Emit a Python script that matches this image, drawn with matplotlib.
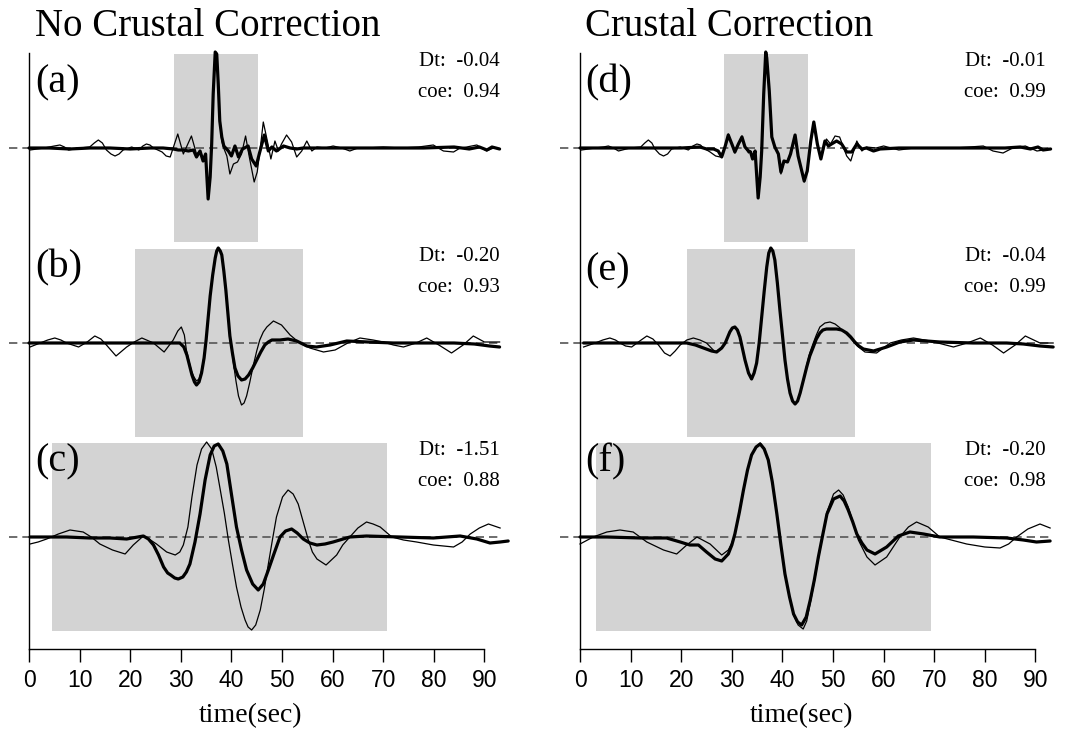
import matplotlib
matplotlib.use("Agg")
import matplotlib.pyplot as plt
from matplotlib.patches import Rectangle

# ---- data (time in s, amplitude in plot units) ----
# column 1: no crustal correction
a_thin_t = [0.2, 3.0, 5.0, 6.1, 7.0, 7.8, 10.0, 12.0, 12.9, 13.7,
            14.5, 15.3, 16.2, 17.0, 17.8, 18.6, 20.3, 21.7, 22.5, 23.2,
            23.9, 24.6, 26.3, 27.1, 27.9,
            29.4, 30.5, 32.1, 33.1,
            33.8, 34.4, 34.9, 35.4, 35.8, 36.1, 36.4, 36.8, 37.1, 37.4,
            37.7, 38.1, 38.4, 39.1, 39.7, 40.4, 41.2, 42.0, 42.8, 43.5,
            44.5, 45.1, 45.8, 46.3, 47.1, 47.8, 48.6, 49.3, 49.9, 50.9,
            51.9, 52.9, 53.9, 54.9, 55.9, 56.9, 58.5, 60.1, 61.8, 63.4,
            65.0, 66.7, 70.0, 73.5, 77.0, 79.9, 81.9, 83.9, 85.2, 86.5,
            88.5, 90.4, 91.8, 93.0]
a_thin_v = [-2, 0, 2, 3, 1, -2, 0, 1, 5, 8,
            5, -2, -6, -8, -6, -2, 1, -2, 2, 4,
            3, 0, -4, -8, -9,
            14, -6, 12, -6,
            -3, -11, -6, -51, -29, 4, 54, 94, 94, 64,
            27, 7, 1, -8, -26, -16, -14, -6, 12, -8,
            -34, -24, 4, 26, 7, -11, 7, -3, 4, 13,
            6, -9, -3, 7, -3, 1, 0, 2, 0, -3,
            0, 0, 1, 0, 1, 3, -3, -4, 0, 1,
            3, -3, 0, -1]
a_thick_t = [0.0, 4, 8, 12, 16, 20, 24, 26.5, 28.5, 29.5,
             30.5, 31.5, 32.5, 33.1, 33.8, 34.4, 34.9, 35.4, 35.8, 36.1,
             36.4, 36.8, 37.1, 37.4, 37.7, 38.1, 38.5, 39.4, 40.0, 40.7,
             41.4, 42.2, 43.3, 44.0, 44.9, 45.5, 46.5, 47.3, 48.0, 48.9,
             50.3, 51.6, 52.9, 54.2, 57, 62, 70, 78, 84, 87,
             89, 90.5, 91.5, 93.0]
a_thick_v = [0, 0, -1, 0, 0, -1, 0, 0, -1, -2,
             -2, -3, -2, -9, -3, -13, -6, -51, -29, 4,
             54, 96, 94, 64, 27, 11, 2, -3, -8, 2,
             -9, -1, 2, -11, -18, -6, 13, -3, 1, -3,
             2, 0, -1, 0, 0, 0, 0, 0, 1, -1,
             1, -2, 1, -1]

b_thin_t = [0.2, 2.2, 3.7, 5.1, 6.3, 7.4, 8.6, 9.8, 11.5, 13.0,
            14.2, 15.3, 17.2, 19.3, 20.8, 22.3, 24.6, 26.7, 28.5, 29.4,
            30.1, 30.7, 31.1, 31.6, 32.1, 32.6, 33.1, 33.6, 34.1, 34.6,
            35.0, 35.4, 35.8, 36.3, 36.8, 37.1, 37.4, 37.8, 38.1, 38.5,
            38.9, 39.3, 39.7, 40.1, 40.4, 40.9, 41.4, 42.0, 42.5, 43.0,
            43.6, 44.3, 45.0, 45.6, 46.3, 47.0, 48.3, 49.9, 51.6, 53.5,
            55.5, 58.2, 60.5, 63.0, 65.4, 68.0, 70.0, 72.0, 74.0, 76.5,
            78.6, 81.0, 83.5, 85.8, 87.8, 90.0, 93.0]
b_thin_v = [-4, 0, 3, 5, 3, 0, -2, -4, 1, 7,
            4, -2, -13, -4, 1, 5, 0, -9, 3, 12,
            16, 8, -7, -18, -28, -34, -38, -36, -28, -13,
            3, 25, 47, 68, 85, 92, 95, 92, 88, 72,
            53, 30, 5, -8, -20, -38, -53, -62, -60, -53,
            -40, -23, -8, 3, 11, 16, 22, 18, 8, 0,
            -5, -9, -7, 0, 5, 3, 1, -2, -4, 0,
            5, -2, -10, -2, 7, 1, 1]
b_thick_t = [0, 5, 10, 15, 20, 25, 28, 29.8, 30.6, 31.2,
             31.7, 32.2, 32.7, 33.1, 33.6, 34.1, 34.6, 35.0, 35.4, 35.8,
             36.3, 36.8, 37.1, 37.4, 37.8, 38.1, 38.5, 38.9, 39.3, 39.7,
             40.2, 40.7, 41.3, 42.0, 42.7, 43.4, 44.2, 45.0, 45.8, 46.6,
             47.3, 48.0, 49.6, 51.2, 52.9, 54.9, 56.8, 59.5, 62.8, 67,
             72, 78, 84, 88, 91, 93]
b_thick_v = [0, 0, 0, 0, 0, 0, 0, 0, -4, -12,
             -22, -32, -39, -42, -39, -30, -15, 3, 25, 47,
             68, 85, 92, 95, 92, 88, 72, 53, 30, 7,
             -10, -25, -33, -37, -36, -32, -25, -17, -9, -2,
             1, 3, 3, 4, 2, -3, -4, -2, 2, 1,
             0, 0, 0, -1, -3, -4]

c_thin_t = [0.2, 1.8, 3.5, 5.8, 8.1, 10.7, 12.3, 14.0, 16.5, 19.0,
            20.6, 22.6, 24.0, 25.2, 27.2, 28.9, 29.8, 30.5, 31.4, 32.2,
            33.2, 34.1, 35.1, 36.1, 37.0, 37.7, 38.6, 39.4, 40.2, 41.0,
            41.9, 42.7, 43.3, 44.0, 44.8, 45.7, 46.5, 47.3, 48.1, 48.9,
            50.1, 51.2, 52.2, 53.2, 54.2, 55.2, 56.0, 56.9, 58.7, 60.8,
            62.0, 63.4, 65.0, 66.7, 68.0, 69.4, 71.7, 74.0, 76.6, 79.9,
            83.9, 85.6, 87.2, 89.0, 90.8, 93.1]
c_thin_v = [-7, -5, -2, 3, 7, 5, 0, -7, -13, -17,
            -8, 1, -3, -7, -15, -18, -15, -8, 10, 40,
            72, 88, 95, 88, 70, 50, 24, -3, -27, -50,
            -70, -83, -90, -93, -88, -73, -52, -27, -3, 20,
            40, 47, 43, 33, 15, -3, -15, -22, -28, -18,
            -8, 0, 9, 15, 13, 10, 0, -3, -5, -8,
            -10, -5, 3, 9, 13, 9]
c_thick_t = [0.2, 4, 7.4, 12, 16, 19.3, 21.5, 22.6, 23.6, 24.6,
             25.6, 26.6, 27.4, 28.0, 28.8, 29.5, 30.4, 31.1, 31.8, 32.8,
             33.8, 34.8, 35.8, 36.6, 37.4, 38.3, 39.1, 40.0, 41.0, 42.0,
             43.0, 44.2, 45.3, 46.3, 47.3, 48.4, 49.6, 50.7, 51.9, 53.0,
             54.2, 55.5, 56.9, 58.5, 60.1, 63.4, 66.7, 73.3, 79.9, 85.2,
             88.5, 91.1, 93.1, 94.7]
c_thick_v = [0, 0, 0, -1, -1, -2, 0, 1, -2, -8,
             -18, -30, -36, -38, -41, -42, -40, -35, -27, -5,
             23, 57, 82, 91, 93, 86, 73, 43, 10, -13,
             -33, -47, -53, -47, -33, -17, 0, 6, 8, 4,
             -2, -6, -8, -7, -5, 0, 1, 0, -1, 1,
             -2, -6, -5, -4]

# column 2: crustal correction
d_thin_t = [0.3, 3.0, 4.6, 5.6, 6.6, 7.6, 9.9, 12.0, 12.8, 13.5,
            14.2, 14.8, 15.7, 16.5, 17.3, 18.1, 19.8, 21.4, 22.3, 23.1,
            23.8, 24.4, 25.7, 26.8, 27.7,
            28.7, 29.3, 30.0, 30.6,
            31.3, 32.0, 32.6, 33.3, 33.7, 34.1, 34.6, 35.2, 35.6, 35.9,
            36.3, 36.7, 36.9, 37.4, 37.9, 38.5, 39.2, 39.7, 40.3, 41.0,
            41.6, 42.5, 43.1, 44.3, 44.9, 45.6, 46.2, 46.9, 47.6, 48.7,
            49.5, 50.4, 51.3, 52.7, 53.5, 54.7, 55.7, 56.6, 58.5, 60.0,
            63.0, 66.0, 70.0, 74.0, 77.0, 79.7, 81.6, 83.6, 85.5, 88.0,
            90.3, 92.9]
d_thin_v = [-2, 0, 1, 2, 0, -3, 0, 1, 5, 8,
            5, -1, -6, -8, -6, -1, 1, -2, 2, 4,
            3, 0, -4, -8, -9,
            2, 14, 4, -5,
            4, 12, 1, -5, -3, -11, -4, -50, -29, -3,
            54, 96, 90, 57, 11, 1, -7, -26, -14, -14,
            -5, 13, -8, -34, -23, 7, 26, 5, -11, 9,
            4, 12, 11, -8, -13, 7, -3, 1, 0, 2,
            -2, 0, 0, 0, 1, 2, -3, -5, 0, 2,
            -3, -1]
d_thick_t = [0, 4, 8, 12, 16, 20, 23.7, 25.0, 26.4, 27.3,
             28.0, 28.7, 29.3, 30.0, 30.6, 31.3, 32.0, 32.6, 33.3, 33.7,
             34.1, 34.6, 35.2, 35.6, 35.9, 36.3, 36.7, 36.9, 37.4, 37.9,
             38.5, 39.2, 39.7, 40.3, 41.0, 41.6, 42.5, 43.1, 44.3, 44.9,
             45.6, 46.2, 46.9, 47.6, 48.4, 49.1, 49.7, 50.7, 51.7, 52.7,
             53.7, 54.7, 55.7, 56.6, 58.0, 59.3, 63, 70, 78, 84,
             87, 89, 90.5, 91.5, 93]
d_thick_v = [0, 0, 0, 0, 0, 0, 1, -1, -1, -3,
             -9, 2, 13, 4, -4, 4, 11, 1, -3, -4,
             -11, -3, -50, -29, -3, 54, 96, 90, 57, 11,
             1, -6, -24, -13, -14, -6, 13, -8, -33, -23,
             7, 26, 4, -11, 7, 2, 4, 7, 4, -4,
             -4, 4, -1, 0, -3, -1, 0, 0, 0, 0,
             1, -1, 1, -2, -1]

e_thin_t = [0.7, 3.0, 4.5, 5.9, 7.0, 7.9, 9.0, 10.2, 11.8, 13.2,
            14.4, 15.5, 16.7, 17.8, 18.8, 19.8, 21.1, 22.4, 23.7, 25.0,
            26.7, 28.0, 28.7, 29.6, 30.1, 30.6, 31.1, 31.6, 32.6,
            33.3, 33.9, 34.4, 34.9, 35.4, 35.9, 36.4, 36.9, 37.3, 37.7,
            38.1, 38.5, 39.0, 39.5, 40.0, 40.5, 41.0, 41.5, 42.0, 42.5,
            43.0, 43.5, 44.1, 44.8, 45.4, 46.1, 46.7, 47.4, 48.4, 49.4,
            50.4, 51.4, 52.4, 53.4, 54.8, 56.3, 58.6, 61.3, 63.5, 65.9,
            69.2, 73.8, 76.5, 79.1, 81.5, 83.7, 86.0, 88.0, 90.9, 93.5]
e_thin_v = [-4, 0, 3, 5, 3, 0, -3, -4, 2, 7,
            4, -2, -10, -13, -8, -2, 3, 5, 3, 0,
            -9, -5, 0, 11, 15, 16, 13, 6, -17,
            -30, -36, -30, -20, 0, 26, 52, 76, 90, 95,
            92, 83, 60, 33, 8, -17, -36, -50, -58, -61,
            -58, -50, -38, -22, -10, 0, 8, 16, 20, 21,
            19, 15, 10, 5, -3, -9, -10, 0, 3, 5,
            2, -4, 0, 5, -2, -10, -2, 7, 0, 0]
e_thick_t = [0.7, 5, 10, 15, 19, 21.1, 22.8, 24.4, 26.0, 27.0,
             28.0, 28.7, 29.6, 30.1, 30.6, 31.1, 31.6, 32.6, 33.3, 33.9,
             34.4, 34.9, 35.4, 35.9, 36.4, 36.9, 37.3, 37.7, 38.1, 38.5,
             39.0, 39.5, 40.0, 40.5, 41.0, 41.5, 42.0, 42.5, 43.0, 43.5,
             44.1, 44.8, 45.4, 46.1, 46.7, 47.4, 48.0, 48.7, 49.7, 50.7,
             51.7, 52.7, 53.5, 54.3, 55.1, 56.0, 57.0, 58.0, 59.3, 60.6,
             63.2, 65.9, 71.1, 77.7, 84.3, 87.6, 90.9, 93.5]
e_thick_v = [0, 0, 0, 0, 0, 0, -2, -5, -8, -9,
             -5, 0, 11, 15, 16, 13, 6, -17, -30, -36,
             -30, -20, 0, 26, 52, 76, 90, 95, 92, 83,
             60, 33, 8, -17, -36, -50, -58, -61, -58, -50,
             -38, -24, -13, -4, 4, 10, 13, 14, 14, 14,
             13, 10, 6, 1, -3, -6, -7, -8, -6, -4,
             1, 3, 1, 0, 0, -1, -3, -4]

f_thin_t = [0, 2.6, 5.3, 7.9, 10.5, 13.2, 16.5, 19.1, 21.1, 23.1,
            25.7, 28.0, 29.3, 30.0, 30.6, 31.5, 32.3, 33.1, 33.9, 34.8,
            35.6, 36.4, 37.2, 38.0, 38.9, 39.7, 40.5, 41.4, 42.2, 43.1,
            44.1, 44.8, 45.5, 46.3, 47.1, 48.0, 48.8, 50.1, 51.1, 52.0,
            53.0, 54.0, 55.0, 56.7, 58.3, 60.6, 63.2, 64.9, 66.5, 68.8,
            71.1, 76.4, 80.0, 83.0, 84.7, 86.3, 88.5, 90.9, 92.9]
f_thin_v = [-7, 0, 5, 7, 5, -5, -13, -17, -8, 0,
            -7, -18, -13, -6, 3, 25, 47, 67, 82, 90,
            94, 89, 77, 55, 23, -8, -37, -60, -78, -88,
            -92, -84, -66, -45, -22, 3, 25, 43, 47, 42,
            30, 14, -3, -20, -28, -20, 0, 10, 15, 10,
            0, -7, -10, -11, -7, 0, 8, 13, 9]
f_thick_t = [0, 5.3, 11.9, 17.1, 19.8, 21.7, 23.4, 25.0, 26.7, 28.0,
             29.3, 30.0, 30.6, 31.5, 32.3, 33.1, 33.9, 34.8, 35.6, 36.4,
             37.2, 38.0, 38.9, 39.7, 40.5, 41.4, 42.2, 43.0, 43.8, 44.7,
             45.5, 46.3, 47.1, 48.0, 48.8, 50.1, 51.4, 52.2, 53.0, 53.9,
             54.7, 55.7, 56.7, 58.3, 60.6, 62.9, 65.2, 67.9, 71.1, 77.7,
             84.3, 87.6, 90.2, 92.9]
f_thick_v = [0, 0, -1, -1, -5, -8, -8, -15, -22, -24,
             -17, -8, 3, 25, 47, 67, 82, 90, 93, 88,
             77, 55, 23, -8, -37, -60, -77, -85, -88, -80,
             -63, -43, -20, 3, 23, 38, 41, 36, 27, 15,
             3, -6, -13, -17, -10, 1, 5, 3, 0, 0,
             -1, -3, -5, -4]

# time windows (grey boxes) and fit numbers
windows = {'a': (28.7, 45.2), 'b': (20.9, 54.2), 'c': (4.5, 70.7),
           'd': (28.5, 45.0), 'e': (21.1, 54.3), 'f': (3.1, 69.3)}
dt_vals = {'a': '-0.04', 'b': '-0.20', 'c': '-1.51',
           'd': '-0.01', 'e': '-0.04', 'f': '-0.20'}
coe_vals = {'a': '0.94', 'b': '0.93', 'c': '0.88',
            'd': '0.99', 'e': '0.99', 'f': '0.98'}

titles = ['No Crustal Correction', 'Crustal Correction']
columns = [['a', 'b', 'c'], ['d', 'e', 'f']]
traces = {
    'a': (a_thin_t, a_thin_v, a_thick_t, a_thick_v),
    'b': (b_thin_t, b_thin_v, b_thick_t, b_thick_v),
    'c': (c_thin_t, c_thin_v, c_thick_t, c_thick_v),
    'd': (d_thin_t, d_thin_v, d_thick_t, d_thick_v),
    'e': (e_thin_t, e_thin_v, e_thick_t, e_thick_v),
    'f': (f_thin_t, f_thin_v, f_thick_t, f_thick_v),
}

baselines = [501, 306, 112]
label_up = {'a': 65, 'b': 75, 'c': 75, 'd': 65, 'e': 72, 'f': 75}
half_box = 94

serif = 'Liberation Serif'
sans = 'Liberation Sans'

fig = plt.figure(figsize=(10.68, 7.33), dpi=100)
lefts = [0.00726, 0.5232]

for col, (left, title, panels) in enumerate(zip(lefts, titles, columns)):
    ax = fig.add_axes([left, 0.1146, 0.470, 0.8131])
    ax.set_xlim(-4.2, 95)
    ax.set_ylim(0, 596)
    for key, base in zip(panels, baselines):
        t0, t1 = windows[key]
        ax.add_patch(Rectangle((t0, base - half_box), t1 - t0, 2 * half_box,
                               facecolor='#d3d3d3', edgecolor='none', zorder=1))
        ax.plot([-4, 93], [base, base], color='#555555', lw=1.2,
                ls=(0, (5, 3)), zorder=2, clip_on=False)
        th_t, th_v, tk_t, tk_v = traces[key]
        ax.plot(th_t, [base + v for v in th_v], color='black', lw=0.9,
                zorder=3, clip_on=False, solid_joinstyle='round')
        ax.plot(tk_t, [base + v for v in tk_v], color='black', lw=2.3,
                zorder=4, clip_on=False, solid_joinstyle='round',
                solid_capstyle='round')
        lx = 1.2 if col == 0 else 1.0
        ax.text(lx, base + label_up[key], '(%s)' % key, fontsize=29,
                family=serif, ha='left', va='center', zorder=5)
        rx = 93 if col == 0 else 92
        ax.text(rx, base + 86, 'Dt:  ' + dt_vals[key], fontsize=15,
                family=serif, ha='right', va='center')
        ax.text(rx, base + 55, 'coe:  ' + coe_vals[key], fontsize=15,
                family=serif, ha='right', va='center')

    for side in ['top', 'right']:
        ax.spines[side].set_visible(False)
    ax.spines['left'].set_position(('data', 0))
    ax.spines['bottom'].set_bounds(0, 90)
    ax.spines['left'].set_linewidth(1.0)
    ax.spines['bottom'].set_linewidth(1.0)
    ax.set_yticks([])
    ax.set_xticks(range(0, 91, 10))
    ax.tick_params(axis='x', length=9.5, width=1.0, pad=5, labelsize=16.5)
    for lab in ax.get_xticklabels():
        lab.set_family(sans)
    ax.set_xlabel('time(sec)', fontsize=20, family=serif)
    ax.xaxis.set_label_coords(0.483, -0.090)
    ax.patch.set_visible(False)

    tx = 35 if col == 0 else 585
    fig.text(tx / 1068, (733 - 36) / 733, title, fontsize=28, family=serif,
             ha='left', va='baseline')

fig.savefig('out.png', dpi=100)
